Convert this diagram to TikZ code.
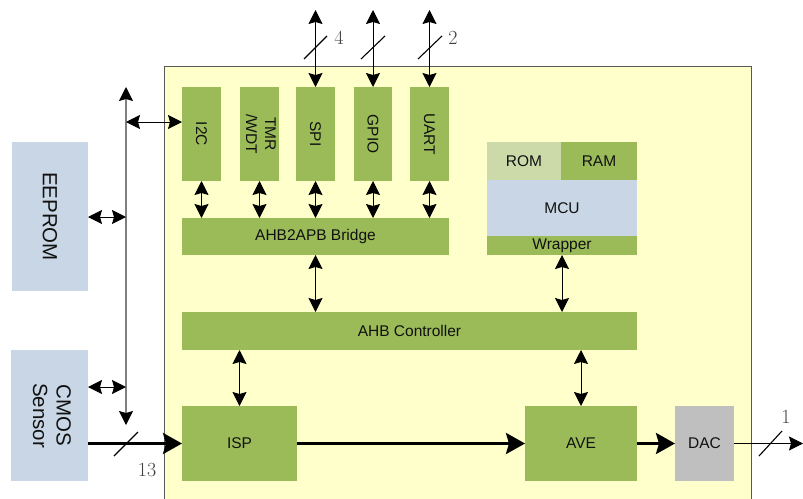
\documentclass[tikz,border=0pt]{standalone}
\usepackage{fontspec}
\setsansfont{Liberation Sans}
\usetikzlibrary{arrows.meta}
\definecolor{grn}{HTML}{9BBB59}
\definecolor{lgrn}{HTML}{CCDAAA}
\definecolor{blu}{HTML}{C9D6E5}
\definecolor{ylw}{HTML}{FFFFCC}
\definecolor{dacgray}{HTML}{BFBFBF}
\definecolor{txt}{HTML}{111111}
\tikzset{
  blk/.style={inner sep=0pt, outer sep=0pt, text=txt,
    font=\sffamily\fontsize{15.5}{19}\selectfont},
  bigblk/.style={blk, font=\sffamily\fontsize{20.5}{23.5}\selectfont},
  dbl/.style={line width=1pt, {Stealth[length=14pt,width=14pt,inset=2pt]}-{Stealth[length=14pt,width=14pt,inset=2pt]}},
  sgl/.style={line width=1pt, -{Stealth[length=14pt,width=14pt,inset=2pt]}},
  fat/.style={line width=3pt, -{Stealth[length=19pt,width=21pt,inset=3pt]}},
  bus/.style={line width=1.2pt, draw=black!50,
    {Stealth[length=14pt,width=14pt,inset=2pt,black]}-{Stealth[length=14pt,width=14pt,inset=2pt,black]}},
  slash/.style={line width=1.1pt},
  num/.style={inner sep=0pt, font=\fontsize{20}{22}\selectfont, text=black!75}
}
\begin{document}
\begin{tikzpicture}[x=1pt,y=-1pt]
\useasboundingbox (0,0) rectangle (803,498);
% main chip area
\fill[ylw] (164,66) rectangle (751,500);
\draw[black!65, line width=0.8pt] (164,500) -- (164,66) -- (751,66) -- (751,500);

% peripherals
\node[blk, fill=grn, minimum width=39pt, minimum height=94pt] (i2c) at (201.5,134) {\rotatebox{-90}{I2C}};
\node[blk, fill=grn, minimum width=39pt, minimum height=94pt] (tmr) at (259.5,134) {\rotatebox{-90}{\begin{tabular}{@{}c@{}}TMR\\/WDT\end{tabular}}};
\node[blk, fill=grn, minimum width=39pt, minimum height=94pt] (spi) at (315.5,134) {\rotatebox{-90}{SPI}};
\node[blk, fill=grn, minimum width=38pt, minimum height=94pt] (gpio) at (373,134) {\rotatebox{-90}{GPIO}};
\node[blk, fill=grn, minimum width=39pt, minimum height=94pt] (uart) at (429.5,134) {\rotatebox{-90}{UART}};

\node[blk, fill=grn, minimum width=267pt, minimum height=37pt] (bridge) at (315.5,236.5) {AHB2APB Bridge};
\node[blk, fill=grn, minimum width=455pt, minimum height=38pt] (ahb) at (409.5,331) {AHB Controller};

% MCU group
\node[blk, fill=lgrn, minimum width=74pt, minimum height=38pt] (rom) at (524,161) {ROM};
\node[blk, fill=grn, minimum width=76pt, minimum height=38pt] (ram) at (599,161) {RAM};
\node[blk, fill=blu, minimum width=150pt, minimum height=56pt] (mcu) at (562,208) {MCU};
\node[blk, fill=grn, minimum width=150pt, minimum height=19pt] (wrap) at (562,245.5) {Wrapper};

% video path
\node[blk, fill=grn, minimum width=115pt, minimum height=75pt] (isp) at (239.5,443.5) {ISP};
\node[blk, fill=grn, minimum width=112pt, minimum height=75pt] (ave) at (581,443.5) {AVE};
\node[blk, fill=dacgray, minimum width=59pt, minimum height=75pt] (dac) at (704.5,443.5) {DAC};

% external
\node[bigblk, fill=blu, minimum width=76pt, minimum height=149pt] (eeprom) at (50,216.5) {\rotatebox{-90}{EEPROM}};
\node[bigblk, fill=blu, minimum width=77pt, minimum height=131pt] (cmos) at (49.5,415.5) {\rotatebox{-90}{\begin{tabular}{@{}c@{}}CMOS\\Sensor\end{tabular}}};

% top pins
\coordinate (spit) at (315.5,10);
\coordinate (gpiot) at (373,10);
\coordinate (uartt) at (429.5,10);
\draw[dbl] (spit) -- (spi.north);
\draw[dbl] (gpiot) -- (gpio.north);
\draw[dbl] (uartt) -- (uart.north);
\draw[slash] (304,59) -- (327,36);
\draw[slash] (361,59) -- (385,36);
\draw[slash] (418,59) -- (442,36);
\node[num] (n4) at (339,38) {4};
\node[num] (n2) at (453,38) {2};

% peripherals to bridge
\foreach \p in {i2c,tmr,spi,gpio,uart}
  \draw[dbl] (\p.south) -- (\p.south |- bridge.north);

% bridge / wrapper to AHB
\draw[dbl] (bridge.south) -- (bridge.south |- ahb.north);
\draw[dbl] (wrap.south) -- (wrap.south |- ahb.north);
% AHB to ISP / AVE
\draw[dbl] (isp.north |- ahb.south) -- (isp.north);
\draw[dbl] (ave.north |- ahb.south) -- (ave.north);

% side bus
\coordinate (bustop) at (126,87);
\coordinate (busbot) at (126,425);
\draw[bus] (bustop) -- (busbot);
\coordinate (bi2c) at (126,122);
\draw[dbl] (bi2c) -- (bi2c -| i2c.west);
\coordinate (bee) at (126,217);
\draw[dbl] (eeprom.east |- bee) -- (bee);
\coordinate (bcm) at (126,387);
\draw[dbl] (cmos.east |- bcm) -- (bcm);

% data path
\draw[fat] (cmos.east |- isp.west) -- (isp.west);
\draw[slash] (114,456) -- (138,432);
\node[num] (n13) at (147,470) {13};
\draw[fat] (isp.east) -- (ave.west);
\draw[fat] (ave.east) -- (dac.west);
\coordinate (out) at (803,443.5);
\draw[sgl] (dac.east) -- (out);
\draw[slash] (759,456) -- (782,431);
\node[num] (n1) at (786,417) {1};
\end{tikzpicture}
\end{document}
